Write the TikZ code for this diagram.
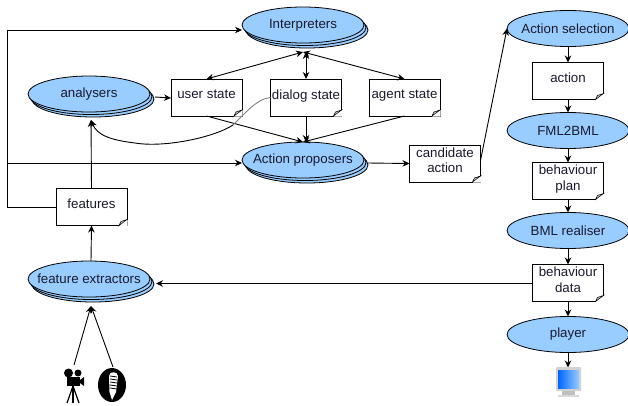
\documentclass[tikz,border=0pt]{standalone}
\usepackage{fontspec}
\setmainfont{Liberation Sans}
\usetikzlibrary{arrows.meta, positioning, shapes.geometric, shadows}
\definecolor{procblue}{HTML}{99CCFF}
\definecolor{inkdark}{HTML}{1A1A2E}

\begin{document}
\begin{tikzpicture}[
    x=1pt, y=-1pt,
    node distance=14pt,
    proc/.style={ellipse, draw, line width=0.8pt, outer sep=0pt, fill=procblue, inner xsep=-12pt, inner ysep=0pt, minimum width=122pt, minimum height=36pt, text=inkdark, font=\fontsize{13.3}{15.5}\selectfont},
    stacked/.style={proc, double copy shadow={shadow xshift=2pt, shadow yshift=-2.5pt, fill=procblue, draw=black, opacity=1}},
    docbox/.style={rectangle, draw, line width=0.8pt, outer sep=0pt, fill=white, inner sep=0pt, align=center, minimum width=71pt, minimum height=37pt, text=inkdark, font=\fontsize{13.3}{15.5}\selectfont, execute at end node={\rule[-6.5pt]{0pt}{6.5pt}}},
    arrow/.style={-{Stealth[length=7pt, width=6.5pt]}, line width=0.9pt},
    twoway/.style={{Stealth[length=7pt, width=6.5pt]}-{Stealth[length=7pt, width=6.5pt]}, line width=0.9pt}
]
    \useasboundingbox (0,0) rectangle (628,405);

    \node[stacked] (interp) at (303,25) {Interpreters};
    \node[stacked] (analyse) at (89,94) {analysers};
    \node[docbox] (user) at (206.5,97.5) {user state};
    \node[docbox] (dialog) at (306,97.5) {dialog state};
    \node[docbox] (agent) at (404.5,97.5) {agent state};
    \node[stacked] (propose) at (303,160) {Action proposers};
    \node[docbox] (cand) at (445,163.5) {candidate\\action};
    \node[docbox] (feat) at (91.5,207) {features};
    \node[stacked] (extract) at (89,279) {feature extractors};

    \node[proc] (select) at (568,28.5) {Action selection};
    \node[docbox, below=16pt of select] (act) {action};
    \node[proc, below=13pt of act] (fml) {FML2BML};
    \node[docbox, below=of fml] (plan) {behaviour\\plan};
    \node[proc, below=13pt of plan] (bml) {BML realiser};
    \node[docbox, below=16pt of bml] (data) {behaviour\\data};
    \node[proc, below=15pt of data] (play) {player};
    \coordinate[below=15pt of play] (screen);
    \coordinate (camera) at (74,365);
    \coordinate (mic) at (113,367);
    \coordinate (leftbus) at (7,163);

    \foreach \doc in {user,dialog,agent,cand,feat,act,plan,data} {
        \fill[white] ([xshift=-8pt,yshift=-0.5pt]\doc.south east) -- ([xshift=0.5pt,yshift=-0.5pt]\doc.south east) -- ([xshift=0.5pt,yshift=6pt]\doc.south east) -- cycle;
        \draw[fill=gray!40, line width=0.5pt] ([xshift=-8pt]\doc.south east) -- ([yshift=6pt]\doc.south east) -- ([xshift=-6pt,yshift=4pt]\doc.south east) -- cycle;
    }

    \draw[arrow] (feat.west) -- (7,207) |- ([yshift=-5pt]interp.west);
    \draw[arrow] (leftbus) -- ([yshift=-3pt]propose.west);
    \draw[arrow] (feat.north) -- ([xshift=2pt,yshift=-8pt]analyse.south);
    \draw[arrow] ([xshift=5pt,yshift=-3pt]analyse.east) -- ([yshift=-0.5pt]user.west);
    \draw[twoway] (user.north) -- ([yshift=-9pt]interp.south);
    \draw[twoway] (dialog.north) -- ([xshift=3pt,yshift=-9pt]interp.south);
    \draw[twoway] (agent.north) -- ([yshift=-9pt]interp.south);
    \draw[arrow] (user.south) -- (propose.north);
    \draw[arrow] (dialog.south) -- ([xshift=3pt]propose.north);
    \draw[arrow] (agent.south) -- (propose.north);
    \draw[draw=gray, line width=0.9pt] (dialog.west) .. controls (258,99) and (250,108) .. (233,125);
    \draw[arrow] (233,125) .. controls (215,137) and (165,148) .. (135,143) .. controls (110,140) and (97,135) .. ([xshift=2pt,yshift=-8pt]analyse.south);
    \draw[arrow] ([xshift=4pt,yshift=-3pt]propose.east) -- (cand.west);
    \draw[arrow] ([yshift=3pt]cand.east) -- (select.west);
    \draw[arrow] (select) -- (act);
    \draw[arrow] (act) -- (fml);
    \draw[arrow] (fml) -- (plan);
    \draw[arrow] (plan) -- (bml);
    \draw[arrow] (bml) -- (data);
    \draw[arrow] (data) -- (play);
    \draw[arrow] (play) -- (screen);
    \draw[arrow] ([yshift=-0.5pt]data.west) -- ([xshift=6pt,yshift=-4.5pt]extract.east);
    \draw[arrow] ([xshift=2pt]extract.north) -- (feat.south);
    \draw[arrow] (camera) -- ([xshift=2pt,yshift=-9pt]extract.south);
    \draw[arrow] (mic) -- ([xshift=2pt,yshift=-9pt]extract.south);

    % camera on tripod
    \fill (68.5,373) circle (4.5pt);
    \fill (78,373) circle (3.5pt);
    \fill (67,377) rectangle (80,386);
    \fill (80,380) -- (84,377) -- (84,386) -- (80,383) -- cycle;
    \draw[line width=1.2pt] (73,386) -- (67,403);
    \draw[line width=1.2pt] (73,386) -- (79,403);
    \draw[line width=1.2pt] (73,386) -- (73,403);

    % microphone
    \fill (112,385) ellipse (14pt and 17pt);
    \fill[white] (109,376) .. controls (109,371) and (118,371) .. (118,376) -- (116,392) -- (112,400) -- (109.5,392) -- cycle;
    \foreach \yy in {376,379,382,385,388}
        \draw[line width=0.8pt] (110,\yy) -- (117,\yy+1);

    % monitor
    \fill[gray!35, rounded corners=1pt] (556,367) rectangle (581,391);
    \shade[left color=blue!60!cyan, right color=procblue] (558,370) rectangle (579,388);
    \fill[gray!50] (562,391) rectangle (575,395);
    \fill[gray!30] (558,395) rectangle (579,397);
\end{tikzpicture}
\end{document}
